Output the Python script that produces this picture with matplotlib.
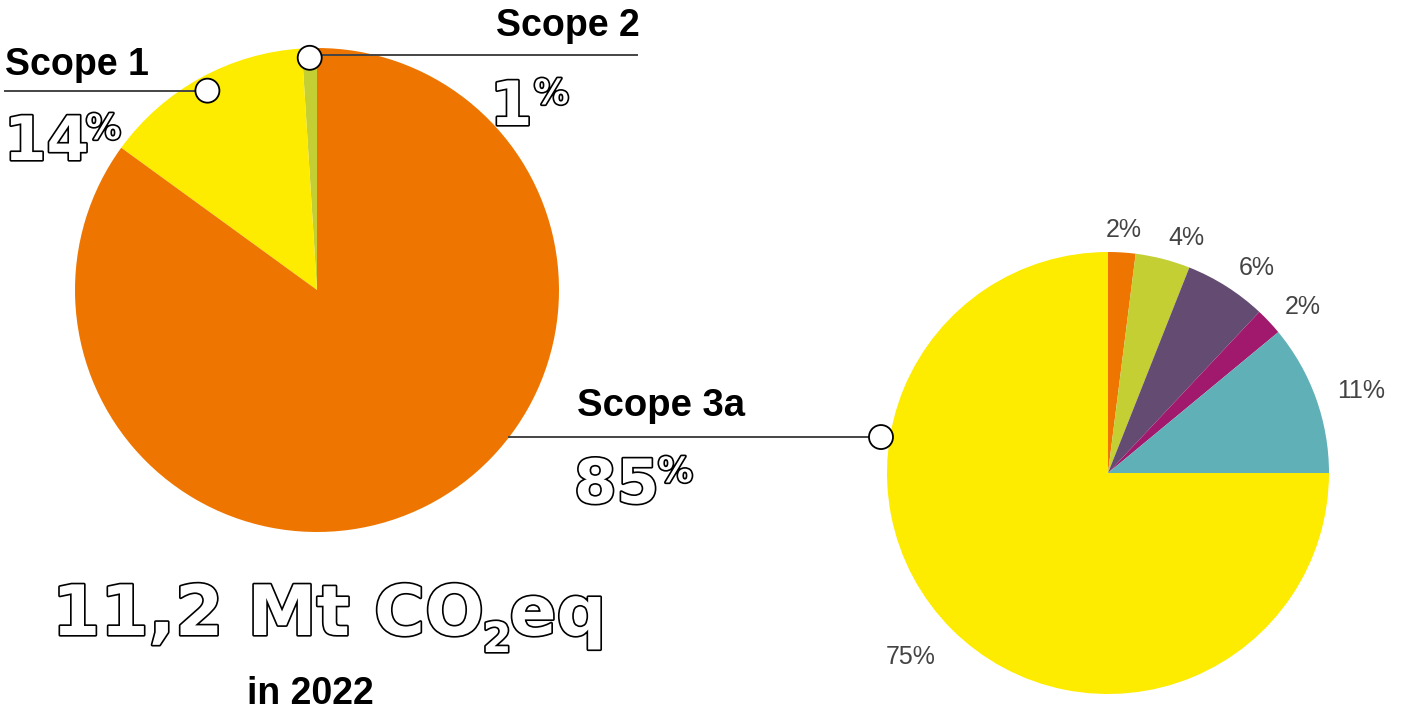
import numpy as np
import matplotlib.pyplot as plt
import matplotlib.patheffects as pe
from matplotlib.patches import Circle

# scope split of total emissions (left pie, drawn from top counter-clockwise)
scope_names = ['Scope 2', 'Scope 1', 'Scope 3a']
scope_share = [1, 14, 85]
scope_colors = ['#C3CF32', '#FDEB00', '#EE7600']

# breakdown of scope 3a (right pie, drawn from top clockwise)
s3_share = [2, 4, 6, 2, 11, 75]
s3_labels = ['2%', '4%', '6%', '2%', '11%', '75%']
s3_colors = ['#EE7600', '#C3CF32', '#634B72', '#A1196D', '#60B0B8', '#FDEB00']

total_parts = ['11,2 Mt CO', '2', 'eq']
year_txt = 'in 2022'

W, H = 1414, 714
fig = plt.figure(figsize=(W / 100, H / 100), dpi=100)
ax = fig.add_axes([0, 0, 1, 1])
ax.set_xlim(0, W)
ax.set_ylim(0, H)
ax.set_aspect('equal')
ax.axis('off')


def Y(y):
    # image row -> data y
    return H - y


c1, r1 = (317, Y(290)), 242
c2, r2 = (1108, Y(473)), 221

w1, _ = ax.pie(scope_share, colors=scope_colors, startangle=90, counterclock=True,
               center=c1, radius=r1, wedgeprops=dict(linewidth=0))
w2, t2 = ax.pie(s3_share, labels=s3_labels, colors=s3_colors, startangle=90,
                counterclock=False, center=c2, radius=r2, labeldistance=1.1,
                textprops=dict(color='#444444', fontsize=18, family='Liberation Sans'),
                wedgeprops=dict(linewidth=0))
ax.set_xlim(0, W)
ax.set_ylim(0, H)

# pie aligns labels against x=0, not the pie centre -> fix alignment
for w, t in zip(w2, t2):
    a = np.deg2rad((w.theta1 + w.theta2) / 2)
    ca, sa = np.cos(a), np.sin(a)
    t.set_ha('left' if ca > 0.1 else 'right' if ca < -0.1 else 'center')
    if sa < -0.3:
        t.set_va('top')

line_kw = dict(color='#444444', lw=1.4, zorder=3)


def dot(x, y):
    ax.add_patch(Circle((x, y), 12, facecolor='white', edgecolor='black', lw=1.3, zorder=4))


def wedge_point(w, c, r, f):
    a = np.deg2rad((w.theta1 + w.theta2) / 2)
    return c[0] + f * r * np.cos(a), c[1] + f * r * np.sin(a)


# Scope 1 callout
x, y = wedge_point(w1[1], c1, r1, 0.94)
ax.plot([5, x], [y, y], **line_kw)
dot(x, y)
# Scope 2 callout
x, y = wedge_point(w1[0], c1, r1, 0.96)
ax.plot([x, 637], [y + 3, y + 3], **line_kw)
dot(x, y)
# Scope 3a callout to the right pie
a = np.deg2rad(171)
x, y = c2[0] + 1.04 * r2 * np.cos(a), c2[1] + 1.04 * r2 * np.sin(a)
x0 = c1[0] + np.sqrt(r1 ** 2 - (y - c1[1]) ** 2)
ax.plot([x0, x], [y, y], **line_kw)
dot(x, y)

bold = dict(family='Liberation Sans', weight='bold', color='black', va='baseline')
outline = dict(family='DejaVu Sans', weight='bold', color='white', va='baseline',
               path_effects=[pe.withStroke(linewidth=2.4, foreground='black')])

ax.text(5, Y(75), scope_names[1], fontsize=27, ha='left', **bold)
ax.text(640, Y(36), scope_names[0], fontsize=27, ha='right', **bold)
ax.text(577, Y(416), scope_names[2], fontsize=27.5, ha='left', **bold)

ax.text(4, Y(160), f'{scope_share[1]}', fontsize=44, ha='left', **outline)
ax.text(86, Y(139), '%', fontsize=25, ha='left', **outline)
ax.text(490, Y(125), f'{scope_share[0]}', fontsize=44, ha='left', **outline)
ax.text(534, Y(104), '%', fontsize=25, ha='left', **outline)
ax.text(574, Y(503), f'{scope_share[2]}', fontsize=44, ha='left', **outline)
ax.text(658, Y(482), '%', fontsize=25, ha='left', **outline)

# big total with a hand-placed subscript
rend = fig.canvas.get_renderer()
t = ax.text(52, Y(635), total_parts[0], fontsize=50, ha='left', **outline)
xe = ax.transData.inverted().transform(t.get_window_extent(rend))[1][0]
t = ax.text(xe - 2, Y(652), total_parts[1], fontsize=30, ha='left', **outline)
xe = ax.transData.inverted().transform(t.get_window_extent(rend))[1][0]
ax.text(xe - 2, Y(635), total_parts[2], fontsize=50, ha='left', **outline)

ax.text(310, Y(704), year_txt, fontsize=27, ha='center', **bold)

fig.savefig('out.png', dpi=100)
